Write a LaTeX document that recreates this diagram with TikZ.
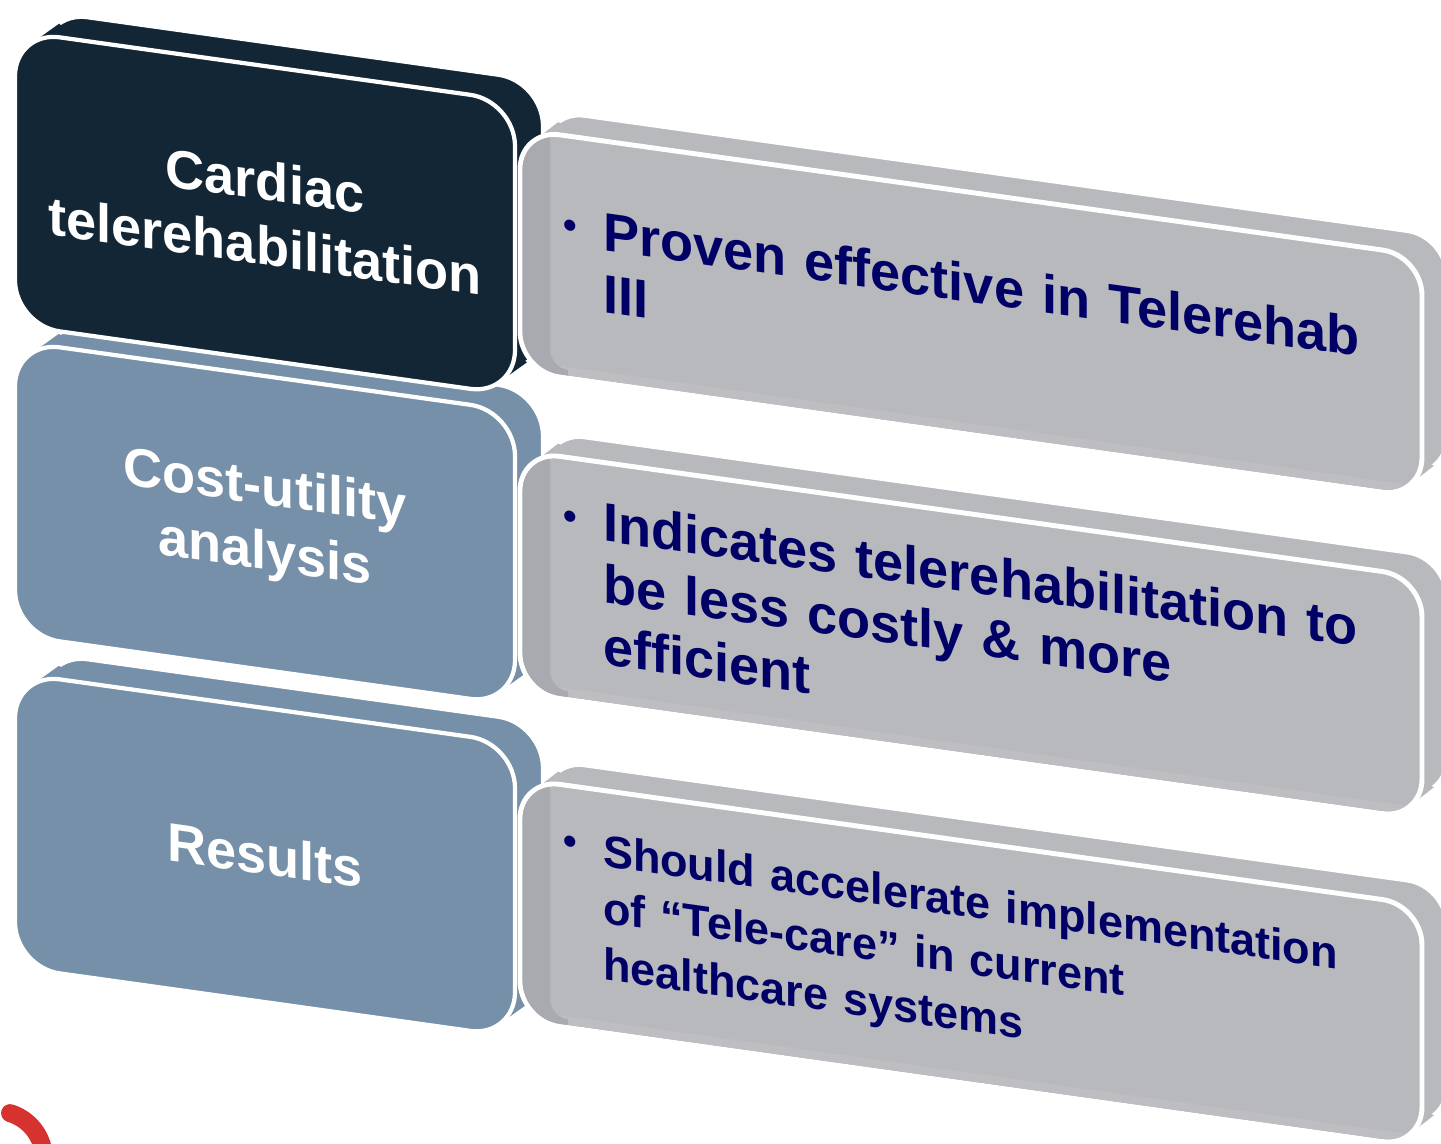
\documentclass[tikz,border=0pt]{standalone}
\usepackage{fontspec}
\setmainfont{Liberation Sans}

\definecolor{navy}{RGB}{18,38,54}
\definecolor{steel}{RGB}{117,144,168}
\definecolor{slab}{RGB}{184,185,189}
\definecolor{bevel}{RGB}{168,170,176}
\definecolor{ink}{RGB}{0,0,102}
\definecolor{logored}{RGB}{214,50,48}

\newcommand{\itembul}{\makebox[0.40cm][l]{\raisebox{0.07cm}{\fontsize{11}{11}\selectfont\textbullet}}}
\newcommand{\itemgap}{\hspace*{0.40cm}}

\begin{document}
\begin{tikzpicture}
[head/.style={rectangle,rounded corners=0.45cm,minimum width=5cm,minimum height=2.94cm,
   inner sep=0pt,outer sep=0pt,draw=white,line width=1.2pt,transform shape},
 headtext/.style={head,text=white,align=center,font=\fontsize{15.4}{18.5}\selectfont\bfseries},
 slabbox/.style={rectangle,rounded corners=0.4cm,minimum width=9.02cm,minimum height=2.42cm,
   inner sep=0pt,outer sep=0pt,fill=slab,draw=white,line width=1.4pt,transform shape},
 slabtext/.style={slabbox,text=ink,align=left,text width=8.16cm,inner xsep=0.43cm,
   font=\fontsize{15.4}{17.6}\selectfont\bfseries}]
\useasboundingbox (0,0) rectangle (14.41,-11.44);
\begin{scope}[cm={1,-0.14,0,1,(0,0)}]
% left blocks, back faces first
\foreach \name/\col/\cy in {cardiac/navy/1.76,cost/steel/4.86,results/steel/8.18}{
  \node[head,fill=\col] (\name back) at (2.93,0.24-\cy) {};
  \fill[\col] (0.31,1.365-\cy) -- ++(0.28,0.24) -- (5.27,-1.125-\cy) -- (4.99,-1.365-\cy) -- cycle;
}
\node[headtext,fill=navy] (cardiac) at (2.65,-1.76) {Cardiac\\telerehabilitation};
\node[headtext,fill=steel] (cost) at (2.65,-4.86) {Cost-utility\\analysis};
\node[headtext,fill=steel] (results) at (2.65,-8.18) {Results};
% grey slabs
\foreach \name/\cy in {proven/1.775,indicates/4.99,should/8.27}{
  \node[slabbox] (\name back) at (9.96,0.23-\cy) {};
  \fill[slab] (5.33,1.104-\cy) -- ++(0.25,0.23) -- (14.34,-0.874-\cy) -- (14.09,-1.104-\cy) -- cycle;
}
\node[slabtext] (proven) at (9.71,-1.775) {\itembul Proven effective in Telerehab\\\itemgap III};
\node[slabtext] (indicates) at (9.71,-4.99) {\itembul Indicates telerehabilitation to\\\itemgap be less costly \& more\\\itemgap efficient};
\node[slabtext,font=\fontsize{12.8}{16.2}\selectfont\bfseries] (should) at (9.71,-8.27)
  {\itembul Should accelerate implementation\\\itemgap of “Tele-care” in current\\\itemgap healthcare systems};
% bevel on the left of each slab
\foreach \cy in {1.775,4.99,8.27}{
  \begin{scope}
    \clip[rounded corners=0.375cm] (5.225,1.185-\cy) rectangle (14.195,-1.185-\cy);
    \fill[slab!92!white] (5.2,-1.1-\cy) -- (14.3,-1.1-\cy) -- (14.3,-1.3-\cy) -- (5.2,-1.3-\cy) -- cycle;
    \fill[bevel] (5.2,1.19-\cy) -- (5.5,1.19-\cy) -- (5.5,-0.95-\cy) to[out=-90,in=180] (5.68,-1.13-\cy)
      -- (5.68,-1.3-\cy) -- (5.2,-1.3-\cy) -- cycle;
  \end{scope}
}
\end{scope}
\draw[logored,line width=0.18cm,line cap=round] (-0.04,-11.59) ++(73:0.48) arc[start angle=73,end angle=5,radius=0.48];
\end{tikzpicture}
\end{document}
